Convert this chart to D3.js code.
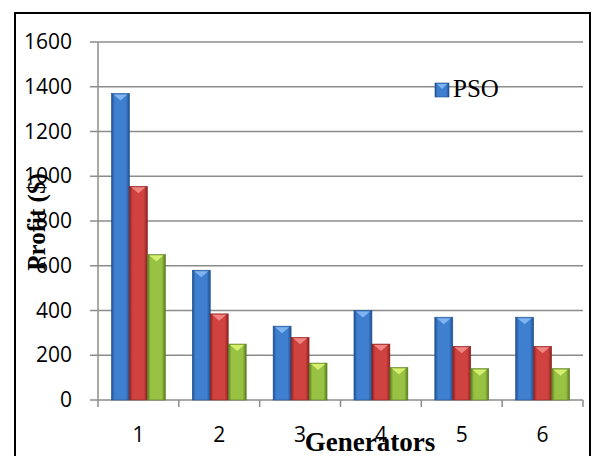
<!DOCTYPE html>
<html>
<head>
<meta charset="utf-8">
<script src="https://cdn.jsdelivr.net/npm/d3@7"></script>
<style>
	body { margin: 0; background: #fff; }
	svg { display: block; }
</style>
</head>
<body>
<div id="chart"></div>
<script>
const generators = ["1", "2", "3", "4", "5", "6"];
const seriesNames = ["PSO", "Method 2", "Method 3"];
const psoProfit = [1370, 580, 330, 400, 370, 370];
const secondProfit = [955, 385, 280, 250, 240, 240];
const thirdProfit = [650, 250, 165, 145, 140, 140];
const yTicks = [0, 200, 400, 600, 800, 1000, 1200, 1400, 1600];

const width = 593, height = 456;
const margin = { top: 42, right: 10, bottom: 56, left: 98 };
const plotRight = 583;

const svg = d3.select("#chart")
	.append("svg")
	.attr("width", width)
	.attr("height", height);

const series = [
	{ name: seriesNames[0], values: psoProfit, dark: "#1f4f8f", mid: "#3f7fd0", light: "#7fb4f0" },
	{ name: seriesNames[1], values: secondProfit, dark: "#8a2220", mid: "#d0423f", light: "#ef8583" },
	{ name: seriesNames[2], values: thirdProfit, dark: "#5a7a1e", mid: "#98c243", light: "#d6ee6e" },
];

// gradients for the 3D-ish bars
const defs = svg.append("defs");
series.forEach((s, i) => {
	const g = defs.append("linearGradient")
		.attr("id", "grad" + i)
		.attr("x1", "0%").attr("x2", "100%")
		.attr("y1", "0%").attr("y2", "0%");
	g.append("stop").attr("offset", "0%").attr("stop-color", s.dark);
	g.append("stop").attr("offset", "18%").attr("stop-color", s.mid);
	g.append("stop").attr("offset", "80%").attr("stop-color", s.mid);
	g.append("stop").attr("offset", "100%").attr("stop-color", s.dark);
});

const x = d3.scaleBand()
	.domain(generators)
	.range([margin.left, plotRight]);

const xInner = d3.scaleBand()
	.domain(d3.range(series.length))
	.range([0, x.bandwidth()])
	.paddingOuter(0.75)
	.paddingInner(0);

const y = d3.scaleLinear()
	.domain([0, 1600])
	.range([height - margin.bottom, margin.top]);

// gridlines
svg.append("g")
	.selectAll("line")
	.data(yTicks)
	.enter()
	.append("line")
	.attr("x1", margin.left - 8)
	.attr("x2", plotRight)
	.attr("y1", d => y(d))
	.attr("y2", d => y(d))
	.attr("stroke", "#8c8c8c")
	.attr("stroke-width", 1.5);

// y axis line
svg.append("line")
	.attr("x1", margin.left).attr("x2", margin.left)
	.attr("y1", y(1600)).attr("y2", y(0) + 7)
	.attr("stroke", "#8c8c8c")
	.attr("stroke-width", 1.5);

// category tick marks
const boundaries = generators.map(g => x(g)).concat([plotRight]);
svg.append("g")
	.selectAll("line")
	.data(boundaries.slice(1))
	.enter()
	.append("line")
	.attr("x1", d => d).attr("x2", d => d)
	.attr("y1", y(0)).attr("y2", y(0) + 7)
	.attr("stroke", "#8c8c8c")
	.attr("stroke-width", 1.5);

const tickFont = "'Open Sans', sans-serif";
svg.append("g")
	.selectAll("text")
	.data(yTicks)
	.enter()
	.append("text")
	.attr("x", 72)
	.attr("y", d => y(d) + 7)
	.attr("text-anchor", "end")
	.style("font-family", tickFont)
	.style("font-size", "21px")
	.attr("fill", "#000")
	.text(d => d);

svg.append("g")
	.selectAll("text")
	.data(generators)
	.enter()
	.append("text")
	.attr("x", d => x(d) + x.bandwidth() / 2)
	.attr("y", 442)
	.attr("text-anchor", "middle")
	.style("font-family", tickFont)
	.style("font-size", "21px")
	.attr("fill", "#000")
	.text(d => d);

// bars
series.forEach((s, si) => {
	const grp = svg.append("g");
	grp.selectAll("rect")
		.data(s.values)
		.enter()
		.append("rect")
		.attr("x", (d, i) => x(generators[i]) + xInner(si))
		.attr("y", d => y(d))
		.attr("width", xInner.bandwidth())
		.attr("height", d => y(0) - y(d))
		.attr("fill", `url(#grad${si})`)
		.attr("stroke", s.dark)
		.attr("stroke-width", 0.6);

	// top bevel triangle
	grp.selectAll("path")
		.data(s.values)
		.enter()
		.append("path")
		.attr("d", (d, i) => {
			const x0 = x(generators[i]) + xInner(si);
			const w = xInner.bandwidth();
			const top = y(d);
			return `M${x0 + 2},${top + 1}L${x0 + w - 2},${top + 1}L${x0 + w / 2},${top + 7}Z`;
		})
		.attr("fill", s.light);
});

// legend (only the first entry is visible in the original)
svg.append("rect")
	.attr("x", 435).attr("y", 83)
	.attr("width", 14).attr("height", 14)
	.attr("fill", "url(#grad0)")
	.attr("stroke", series[0].dark)
	.attr("stroke-width", 0.6);
svg.append("path")
	.attr("d", "M437,84L447,84L442,89Z")
	.attr("fill", series[0].light);
svg.append("text")
	.attr("x", 453)
	.attr("y", 97)
	.style("font-family", "'Liberation Serif', serif")
	.style("font-size", "25px")
	.attr("fill", "#000")
	.text(series[0].name);

// axis titles
svg.append("text")
	.attr("transform", "translate(45, 222) rotate(-90)")
	.attr("text-anchor", "middle")
	.style("font-family", "'Liberation Serif', serif")
	.style("font-weight", "bold")
	.style("font-size", "25px")
	.attr("fill", "#000")
	.text("Profit ($)");

svg.append("text")
	.attr("x", 370)
	.attr("y", 451)
	.attr("text-anchor", "middle")
	.style("font-family", "'Liberation Serif', serif")
	.style("font-weight", "bold")
	.style("font-size", "27px")
	.attr("fill", "#000")
	.text("Generators");

// outer frame
svg.append("rect")
	.attr("x", 15).attr("y", 13)
	.attr("width", 575).attr("height", 460)
	.attr("fill", "none")
	.attr("stroke", "#000")
	.attr("stroke-width", 2);
</script>
</body>
</html>
